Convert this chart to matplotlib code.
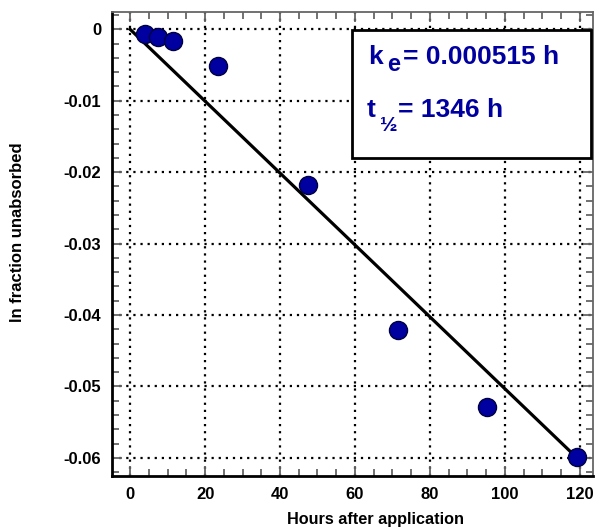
import matplotlib.pyplot as plt
from matplotlib.ticker import MultipleLocator

plt.rcParams['font.family'] = ['Liberation Sans', 'DejaVu Sans']

hours = [4, 7.5, 11.5, 23.5, 47.5, 71.5, 95.3, 119.3]
ln_frac = [-0.0006, -0.0011, -0.0017, -0.0052, -0.0218, -0.0421, -0.0529, -0.0599]

# fitted line
fit_x = [0, 119.3]
slope = -0.000503
fit_y = [slope * x for x in fit_x]

blue = '#0000a0'

fig = plt.figure(figsize=(6, 5.31), dpi=100)
ax = fig.add_axes([0.187, 0.104, 0.801, 0.873])

ax.plot(fit_x, fit_y, color='black', lw=2.3, zorder=3)
ax.plot(hours, ln_frac, 'o', ms=13, mfc=blue, mec='#000040', mew=1, zorder=4)

ax.set_xlim(-4.8, 123.5)
ax.set_ylim(-0.0625, 0.0024)
ax.xaxis.set_major_locator(MultipleLocator(20))
ax.xaxis.set_minor_locator(MultipleLocator(5))
ax.yaxis.set_major_locator(MultipleLocator(0.01))
ax.yaxis.set_minor_locator(MultipleLocator(0.002))
ax.set_yticks([0, -0.01, -0.02, -0.03, -0.04, -0.05, -0.06])
ax.set_yticklabels(['0', '-0.01', '-0.02', '-0.03', '-0.04', '-0.05', '-0.06'])

ax.grid(True, which='major', color='black', linestyle=(0, (1, 2.2)), lw=1.6)
ax.tick_params(which='both', direction='in', top=True, right=True,
               color='#666666', width=1.3)
ax.tick_params(which='major', length=7, labelsize=12, pad=8)
ax.tick_params(which='minor', length=5)
for lbl in ax.get_xticklabels() + ax.get_yticklabels():
    lbl.set_fontweight('bold')
for s in ax.spines.values():
    s.set_linewidth(2)
ax.spines['top'].set_color('#666666')
ax.spines['right'].set_color('#666666')
ax.spines['top'].set_linewidth(1.3)
ax.spines['right'].set_linewidth(1.3)

ax.set_xlabel('Hours after application', fontsize=11.7, fontweight='bold')
ax.set_ylabel('ln fraction unabsorbed', fontsize=12, fontweight='bold')
ax.xaxis.set_label_coords(0.547, -0.079)
ax.yaxis.set_label_coords(-0.181, 0.525)

# rate constant box
box = plt.Rectangle((0.499, 0.685), 0.497, 0.276, transform=ax.transAxes,
                    facecolor='white', edgecolor='black', lw=2, zorder=5)
ax.add_patch(box)
txt = dict(transform=ax.transAxes, fontweight='bold', color=blue,
           va='baseline', zorder=6)
ax.text(0.532, 0.888, 'k', fontsize=19, **txt)
ax.text(0.572, 0.873, 'e', fontsize=17, **txt)
ax.text(0.605, 0.888, '= 0.000515 h', fontsize=19, **txt)
ax.text(0.530, 0.774, 't', fontsize=19, **txt)
ax.text(0.558, 0.743, '½', fontsize=15, **txt)
ax.text(0.595, 0.774, '= 1346 h', fontsize=19, **txt)

fig.savefig('out.png', dpi=100)
